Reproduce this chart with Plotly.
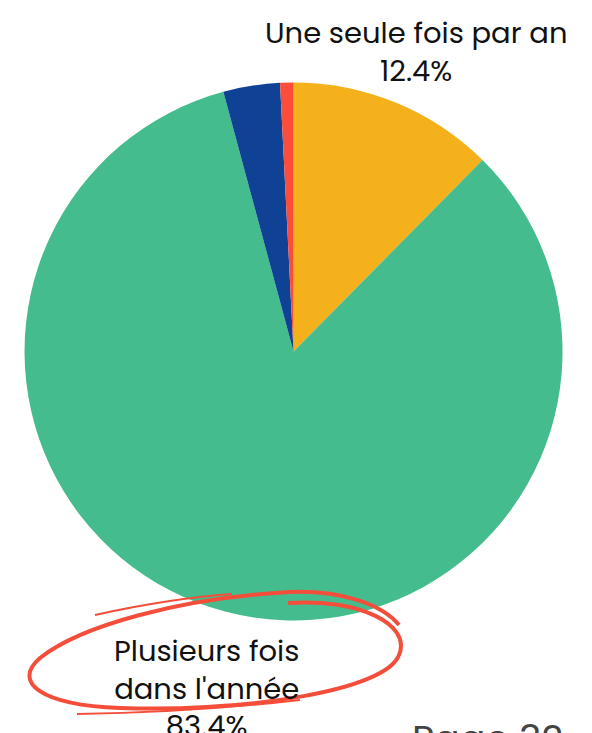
import plotly.graph_objects as go

# Répartition des réponses (en %)
categories = ["Une seule fois par an", "Plusieurs fois<br>dans l'année", "Tous les mois", "Jamais"]
values = [12.4, 83.4, 3.4, 0.8]
colors = ["#F5B11B", "#44BC8E", "#0F4194", "#FA4D3A"]

W, H = 592, 733
FONT = "Poppins, 'Open Sans', sans-serif"

fig = go.Figure(
    go.Pie(
        labels=categories,
        values=values,
        sort=False,
        direction="clockwise",
        rotation=0,
        marker=dict(colors=colors, line=dict(width=0)),
        textinfo="none",
        domain=dict(x=[0.0414, 0.9502], y=[0.1535, 0.8875]),
        showlegend=False,
        hoverinfo="label+percent",
    )
)

# Étiquettes des deux principales parts (catégorie + pourcentage), placées en pixels
total = sum(values)
label_pos = {0: (416, 52), 1: (206, 688)}
annotations = []
for i, (px, py) in label_pos.items():
    annotations.append(
        dict(
            text=f"{categories[i]}<br>{100 * values[i] / total:.1f}%",
            xref="paper", yref="paper",
            x=px / W, y=1 - py / H,
            xanchor="center", yanchor="middle",
            align="center",
            showarrow=False,
            font=dict(family=FONT, size=29, color="#111111"),
        )
    )

# Numéro de page, en partie hors cadre
annotations.append(
    dict(
        text="Page 32",
        xref="paper", yref="paper",
        x=410 / W, y=1 - 710 / H,
        xanchor="left", yanchor="top",
        showarrow=False,
        font=dict(family=FONT, size=38, color="#444444"),
    )
)

# Cercle rouge tracé à la main autour de l'étiquette du bas (coordonnées en pixels)
red = "#F44E3B"
main_stroke = (
    "M 288,603 C 360,598 412,625 399,655 C 386,690 250,712 120,708 "
    "C 40,705 12,682 40,658 C 80,626 180,598 290,592 C 340,590 382,604 399,625"
)
thin_top = "M 95,615 C 140,605 190,597 232,594"
thin_bottom = "M 77,714 C 150,713 230,708 300,700"


def px_path(path):
    # convertit des coordonnées pixel (origine en haut à gauche) en coordonnées paper
    res, nums = [], []
    for t in path.replace(",", " ").split():
        if t.isalpha():
            res.append(t)
        else:
            nums.append(float(t))
            if len(nums) == 2:
                res.append(f"{nums[0] / W:.5f},{1 - nums[1] / H:.5f}")
                nums = []
    return " ".join(res)


shapes = [
    dict(type="path", xref="paper", yref="paper", path=px_path(p), line=dict(color=red, width=w))
    for p, w in [(main_stroke, 4), (thin_top, 2), (thin_bottom, 2)]
]

fig.update_layout(
    width=W,
    height=H,
    margin=dict(l=0, r=0, t=0, b=0, autoexpand=False),
    paper_bgcolor="white",
    plot_bgcolor="white",
    shapes=shapes,
    annotations=annotations,
)

fig.write_html("out.html")
